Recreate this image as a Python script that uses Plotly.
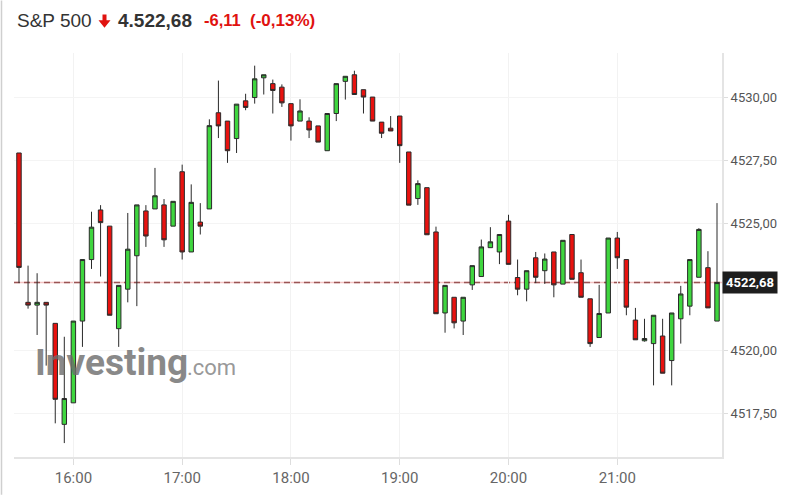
import pandas as pd
import plotly.graph_objects as go

# ---------------- data ----------------
times = pd.date_range("2021-08-31 15:30", periods=78, freq="5min")

opens = [4527.80, 4521.90, 4521.79, 4521.90, 4521.07, 4517.08, 4517.93, 4521.16, 4523.59, 4525.55,
         4524.91, 4520.86, 4522.42, 4523.74, 4525.51, 4525.59, 4525.75, 4524.91, 4527.06, 4523.89,
         4525.07, 4525.59, 4529.39, 4529.06, 4528.37, 4529.86, 4529.99, 4530.77, 4530.54, 4530.40,
         4529.75, 4529.06, 4529.06, 4528.87, 4527.89, 4529.36, 4530.63, 4530.89, 4530.30, 4530.01,
         4529.02, 4528.78, 4529.26, 4527.84, 4526.00, 4526.43, 4524.68, 4521.48, 4522.10, 4521.16,
         4522.59, 4522.92, 4524.06, 4523.89, 4525.11, 4522.88, 4522.42, 4523.66, 4523.15, 4523.89,
         4522.62, 4524.58, 4523.07, 4522.04, 4520.51, 4521.48, 4524.44, 4523.59, 4521.20, 4520.38,
         4520.27, 4520.57, 4519.60, 4521.25, 4521.75, 4522.89, 4523.27, 4521.16]
highs = [4527.80, 4523.35, 4523.05, 4521.90, 4521.07, 4520.54, 4521.16, 4523.59, 4525.48, 4525.74,
         4524.91, 4522.57, 4525.43, 4525.75, 4525.74, 4527.21, 4525.98, 4525.89, 4527.34, 4526.56,
         4525.82, 4529.13, 4530.66, 4529.06, 4529.73, 4530.14, 4531.25, 4530.89, 4530.70, 4530.51,
         4529.75, 4529.92, 4529.21, 4528.87, 4529.36, 4530.54, 4530.83, 4531.05, 4530.30, 4530.01,
         4529.02, 4529.26, 4529.26, 4527.84, 4526.72, 4526.43, 4524.89, 4522.57, 4522.10, 4522.10,
         4523.35, 4524.38, 4524.87, 4524.58, 4525.36, 4523.59, 4523.15, 4523.89, 4523.83, 4523.89,
         4524.35, 4524.58, 4523.59, 4522.04, 4522.59, 4524.44, 4524.68, 4523.59, 4521.68, 4521.25,
         4521.39, 4521.25, 4521.48, 4522.55, 4523.59, 4524.83, 4523.92, 4525.82]
lows = [4522.66, 4521.65, 4520.61, 4519.40, 4517.12, 4516.34, 4517.93, 4520.14, 4523.22, 4522.92,
        4521.39, 4520.14, 4521.90, 4521.75, 4524.09, 4525.59, 4524.09, 4524.91, 4523.59, 4523.89,
        4524.58, 4525.59, 4528.39, 4527.41, 4527.80, 4529.49, 4529.75, 4530.11, 4529.36, 4529.62,
        4528.29, 4529.06, 4528.39, 4528.23, 4527.89, 4529.06, 4529.91, 4530.11, 4529.36, 4529.06,
        4528.39, 4528.67, 4527.41, 4525.74, 4525.75, 4524.57, 4521.45, 4520.70, 4520.87, 4520.61,
        4522.39, 4522.92, 4524.06, 4523.41, 4523.40, 4522.18, 4521.94, 4522.66, 4522.63, 4522.10,
        4522.62, 4522.81, 4522.10, 4520.14, 4520.51, 4521.48, 4523.22, 4521.39, 4520.42, 4520.35,
        4518.62, 4519.10, 4518.62, 4520.27, 4521.39, 4522.89, 4521.68, 4521.16]
closes = [4523.28, 4521.79, 4521.90, 4521.79, 4518.07, 4518.10, 4521.16, 4523.59, 4524.87, 4525.05,
          4521.39, 4522.57, 4524.00, 4525.75, 4524.52, 4526.11, 4524.37, 4525.89, 4523.89, 4525.85,
          4524.91, 4528.88, 4528.87, 4527.89, 4529.73, 4529.60, 4530.73, 4530.89, 4530.27, 4529.78,
          4528.87, 4529.46, 4528.71, 4528.23, 4529.36, 4530.54, 4530.83, 4530.11, 4530.01, 4529.06,
          4528.58, 4528.67, 4528.09, 4525.74, 4526.59, 4524.57, 4521.45, 4522.57, 4521.09, 4522.10,
          4523.35, 4524.09, 4524.29, 4524.58, 4523.40, 4522.42, 4523.15, 4522.89, 4523.61, 4522.59,
          4524.35, 4522.81, 4522.10, 4520.27, 4521.46, 4524.44, 4523.66, 4521.71, 4520.42, 4520.47,
          4521.39, 4519.10, 4521.48, 4522.23, 4523.59, 4524.78, 4521.68, 4522.68]

last_price = 4522.68
y_ticks = [4517.5, 4520.0, 4525.0, 4527.5, 4530.0]
header_name = "S&P 500"
header_price = "4.522,68"
header_change = "-6,11"
header_pct = "(-0,13%)"
last_label = "4522,68"

# ---------------- geometry helpers ----------------
W, H = 789, 499
L, R, T, B = 14, 67, 53, 38
PW = W - L - R
PH = H - T - B


def px(x):
    return (x - L) / PW


def py(y):
    return (H - B - y) / PH


fig = go.Figure(
    go.Candlestick(
        x=times, open=opens, high=highs, low=lows, close=closes,
        increasing=dict(fillcolor="#3fd63f", line=dict(color="#2a2a2a", width=1)),
        decreasing=dict(fillcolor="#e8120f", line=dict(color="#2a2a2a", width=1)),
        whiskerwidth=0, hoverinfo="skip",
    )
)

RED = "#e0120f"

arrow_pts = [(102.5, 14), (106.5, 14), (106.5, 20), (110.5, 20), (104.5, 27.5), (98.5, 20), (102.5, 20)]
arrow_path = "M " + " L ".join(f"{px(a):.5f},{py(b):.5f}" for a, b in arrow_pts) + " Z"

shapes = [
    dict(type="line", xref="paper", yref="y", x0=0, x1=1, y0=last_price, y1=last_price,
         line=dict(color="#f3c2c2", width=1.5), layer="below"),
    dict(type="line", xref="paper", yref="y", x0=0, x1=1, y0=last_price, y1=last_price,
         line=dict(color="#9a5555", width=1.5, dash="6px,4px"), layer="below"),
    dict(type="path", xref="paper", yref="paper", path=arrow_path,
         fillcolor=RED, line=dict(width=0)),
    dict(type="line", xref="paper", yref="paper", x0=px(1.5), x1=px(1.5), y0=py(H), y1=py(0),
         line=dict(color="#cfcfcf", width=1.5)),
]

hy = py(20)
annotations = [
    dict(text=header_name, xref="paper", yref="paper", x=px(15), y=hy, xanchor="left", yanchor="middle",
         showarrow=False, font=dict(family="Liberation Sans", size=19, color="#333333")),
    dict(text=f"<b>{header_price}</b>", xref="paper", yref="paper", x=px(116), y=hy, xanchor="left",
         yanchor="middle", showarrow=False, font=dict(family="Liberation Sans", size=19, color="#333333")),
    dict(text=f"<b>{header_change}</b>", xref="paper", yref="paper", x=px(202), y=hy, xanchor="left",
         yanchor="middle", showarrow=False, font=dict(family="Liberation Sans", size=16.5, color=RED)),
    dict(text=f"<b>{header_pct}</b>", xref="paper", yref="paper", x=px(248), y=hy, xanchor="left",
         yanchor="middle", showarrow=False, font=dict(family="Liberation Sans", size=17, color=RED)),
    # watermark
    dict(text="<b>Investing</b>", xref="paper", yref="paper", x=px(33), y=py(366), xanchor="left",
         yanchor="middle", showarrow=False, opacity=0.8,
         font=dict(family="Roboto", size=37, color="#6c6c6c")),
    dict(text=".com", xref="paper", yref="paper", x=px(185), y=py(371), xanchor="left",
         yanchor="middle", showarrow=False, opacity=0.8,
         font=dict(family="Roboto", size=22, color="#808080")),
    # last price label
    dict(text=f"<b>{last_label}</b>", xref="paper", yref="y", x=1, y=last_price, xanchor="left",
         yanchor="middle", showarrow=False, bgcolor="#1e1e1e", borderpad=3,
         font=dict(family="Roboto", size=13, color="#ffffff")),
]

fig.update_layout(
    width=W, height=H,
    margin=dict(l=L, r=R, t=T, b=B),
    paper_bgcolor="white", plot_bgcolor="white",
    showlegend=False,
    separators=",.",
    shapes=shapes,
    annotations=annotations,
    xaxis=dict(
        type="date",
        range=["2021-08-31 15:27:15", "2021-08-31 21:57:45"],
        rangeslider=dict(visible=False),
        tickformat="%H:%M", dtick=3600000, tick0="2021-08-31 16:00",
        showgrid=True, gridcolor="#f2f2f2", gridwidth=1,
        showline=True, linecolor="#e4e4e4", linewidth=2,
        ticks="outside", ticklen=6, tickcolor="#dddddd",
        tickfont=dict(family="Roboto", size=15, color="#666666"),
        zeroline=False, fixedrange=True,
    ),
    yaxis=dict(
        side="right",
        range=[4515.79, 4531.75],
        tickvals=y_ticks, tickformat=".2f",
        showgrid=True, gridcolor="#f4f4f4", gridwidth=1,
        showline=True, linecolor="#e4e4e4", linewidth=2,
        ticks="outside", ticklen=4, tickcolor="#dddddd",
        tickfont=dict(family="Roboto", size=13, color="#555555"),
        zeroline=False, fixedrange=True,
    ),
)

fig.write_html("out.html", config={"displayModeBar": False},
               post_script="document.body.style.margin='0';")
